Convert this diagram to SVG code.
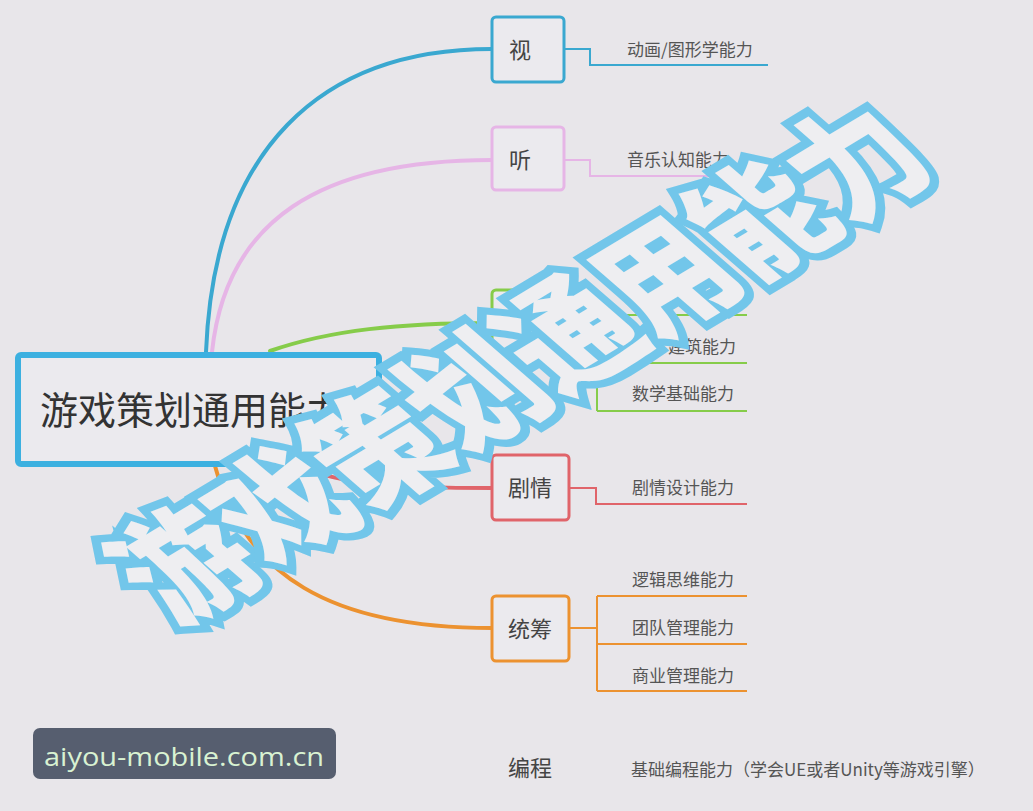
<svg xmlns="http://www.w3.org/2000/svg" width="1033" height="811" viewBox="0 0 1033 811">
<style>
.box{fill:#EBEAEE;stroke-width:3}
.nt{font-family:"Noto Sans CJK SC","Noto Sans",sans-serif;font-size:22px;fill:#444;text-anchor:middle}
.lb{font-family:"Noto Sans CJK SC","Noto Sans",sans-serif;font-size:17px;fill:#555}
.ln{fill:none;stroke-width:2}
.cv{fill:none;stroke-width:4;stroke-linecap:round}
</style>
<rect width="1033" height="811" fill="#E8E6EA"/>
<g id="connectors">
<path class="cv" d="M206 352 C214 150 320 49 492 49" stroke="#3AA8D0"/>
<path class="cv" d="M212 352 C226 220 320 160 492 160" stroke="#E6B5E6"/>
<path class="cv" d="M270 351 C330 330 400 323 492 323" stroke="#86CC4A"/>
<path class="cv" d="M300 466 C340 485 400 488 492 488" stroke="#E0646A"/>
<path class="cv" d="M215 466 C245 575 330 628 492 628" stroke="#EC9230"/>
<path class="ln" d="M564 49 H590 V65 H768" stroke="#3AA8D0"/>
<path class="ln" d="M564 160 H590 V176 H746" stroke="#E6B5E6"/>
<path class="ln" d="M569 323 H597 M597 315 V411 M597 315 H747 M597 363 H747 M597 411 H747" stroke="#86CC4A"/>
<path class="ln" d="M569 488 H596 V504 H747" stroke="#E0646A"/>
<path class="ln" d="M569 628 H597 M597 596 V691 M597 596 H747 M597 644 H747 M597 691 H747" stroke="#EC9230"/>
</g>
<g id="center">
<rect x="18" y="355" width="361" height="109" rx="3" fill="#EBEAEE" stroke="#3CB0E0" stroke-width="6"/>
<text x="40" y="424" font-family="'Noto Sans CJK SC','Noto Sans',sans-serif" font-size="38" fill="#333">游戏策划通用能力</text>
</g>
<g id="n-shi">
<rect class="box" x="492" y="17" width="72" height="65" rx="4" stroke="#3AA8D0"/>
<text class="nt" x="520" y="58">视</text>
<text class="lb" x="627" y="56">动画/图形学能力</text>
</g>
<g id="n-ting">
<rect class="box" x="492" y="127" width="72" height="63" rx="4" stroke="#E6B5E6"/>
<text class="nt" x="520" y="168">听</text>
<text class="lb" x="627" y="166">音乐认知能力</text>
</g>
<g id="n-green">
<rect class="box" x="492" y="290" width="77" height="65" rx="4" stroke="#86CC4A"/>
<text class="lb" x="668" y="353">建筑能力</text>
<text class="lb" x="632" y="400">数学基础能力</text>
</g>
<g id="n-juqing">
<rect class="box" x="492" y="455" width="77" height="65" rx="4" stroke="#E0646A"/>
<text class="nt" x="530" y="496">剧情</text>
<text class="lb" x="632" y="494">剧情设计能力</text>
</g>
<g id="n-tongchou">
<rect class="box" x="492" y="596" width="77" height="65" rx="4" stroke="#EC9230"/>
<text class="nt" x="530" y="637">统筹</text>
<text class="lb" x="632" y="586">逻辑思维能力</text>
<text class="lb" x="632" y="634">团队管理能力</text>
<text class="lb" x="632" y="682">商业管理能力</text>
</g>
<g id="n-biancheng">
<text class="nt" x="530" y="776">编程</text>
<text class="lb" x="631" y="776" fill="#666">基础编程能力（学会UE或者Unity等游戏引擎）</text>
</g>
<g id="overlay">
<text transform="translate(514,357) rotate(-31) skewX(18) scale(0.895,1.05)" text-anchor="middle" dominant-baseline="central" font-family="'Noto Sans CJK SC',sans-serif" font-weight="900" font-size="125" fill="#EEEEF1" stroke="#72C6EA" stroke-width="17" stroke-linejoin="miter" paint-order="stroke">游戏策划通用能力</text>
</g>
<g id="watermark">
<rect x="33" y="728" width="303" height="51" rx="7" fill="#565E6F"/>
<text x="44" y="766" font-family="'Open Sans','Noto Sans',sans-serif" font-size="26" fill="#D9F2D2" textLength="280" lengthAdjust="spacingAndGlyphs">aiyou-mobile.com.cn</text>
</g>
</svg>
